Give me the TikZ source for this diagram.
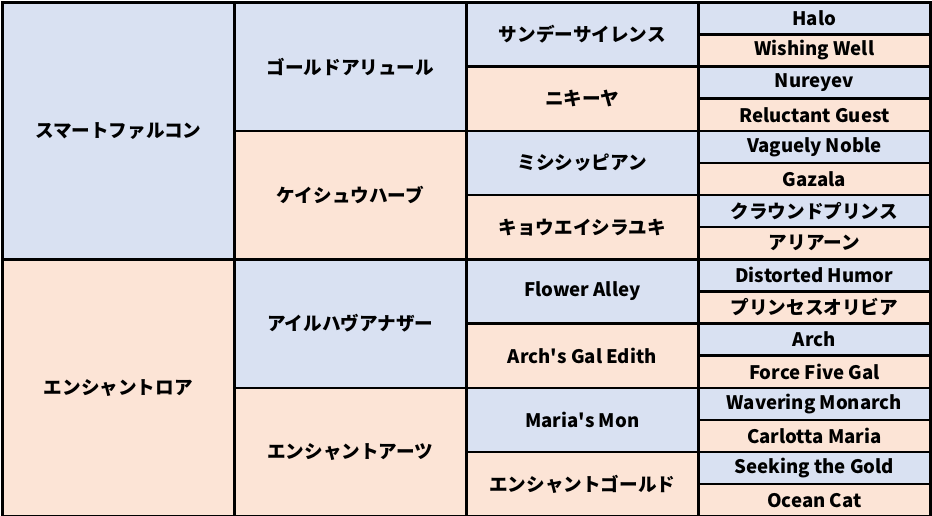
\documentclass[tikz,border=0pt]{standalone}
\usepackage{fontspec}
\setmainfont{Noto Sans CJK JP}
\usetikzlibrary{positioning}

\definecolor{sireblue}{HTML}{D9E1F2}
\definecolor{dampeach}{HTML}{FCE4D6}

\tikzset{
  cell/.style={draw=black, line width=2.6pt, inner sep=0pt, anchor=north west,
    minimum width=232pt, font=\fontsize{18.6}{21}\selectfont\bfseries},
  sire/.style={cell, fill=sireblue},
  dam/.style={cell, fill=dampeach},
  g1/.style={minimum height=257pt},
  g2/.style={minimum height=128.5pt},
  g3/.style={minimum height=64.25pt},
  g4/.style={minimum height=32.125pt}
}

\begin{document}
\begin{tikzpicture}[x=1pt,y=-1pt]
  \useasboundingbox (0,0) rectangle (932,515);

  % 1. pokolenie
  \node[sire,g1] (s) at (1,1) {スマートファルコン};
  \node[dam,g1] (d) at (1,258) {エンシャントロア};

  % 2. pokolenie
  \node[sire,g2] (ss) at (233,1) {ゴールドアリュール};
  \node[dam,g2] (sd) at (233,129.5) {ケイシュウハーブ};
  \node[sire,g2] (ds) at (233,258) {アイルハヴアナザー};
  \node[dam,g2] (dd) at (233,386.5) {エンシャントアーツ};

  % 3. pokolenie
  \node[sire,g3] (sss) at (465,1) {サンデーサイレンス};
  \node[dam,g3] (ssd) at (465,65.25) {ニキーヤ};
  \node[sire,g3] (sds) at (465,129.5) {ミシシッピアン};
  \node[dam,g3] (sdd) at (465,193.75) {キョウエイシラユキ};
  \node[sire,g3] (dss) at (465,258) {Flower Alley};
  \node[dam,g3] (dsd) at (465,322.25) {Arch\textquotesingle s Gal Edith};
  \node[sire,g3] (dds) at (465,386.5) {Maria\textquotesingle s Mon};
  \node[dam,g3] (ddd) at (465,450.75) {エンシャントゴールド};

  % 4. pokolenie
  \node[sire,g4] (ssss) at (697,1) {Halo};
  \node[dam,g4] (sssd) at (697,33.125) {Wishing Well};
  \node[sire,g4] (ssds) at (697,65.25) {Nureyev};
  \node[dam,g4] (ssdd) at (697,97.375) {Reluctant Guest};
  \node[sire,g4] (sdss) at (697,129.5) {Vaguely Noble};
  \node[dam,g4] (sdsd) at (697,161.625) {Gazala};
  \node[sire,g4] (sdds) at (697,193.75) {クラウンドプリンス};
  \node[dam,g4] (sddd) at (697,225.875) {アリアーン};
  \node[sire,g4] (dsss) at (697,258) {Distorted Humor};
  \node[dam,g4] (dssd) at (697,290.125) {プリンセスオリビア};
  \node[sire,g4] (dsds) at (697,322.25) {Arch};
  \node[dam,g4] (dsdd) at (697,354.375) {Force Five Gal};
  \node[sire,g4] (ddss) at (697,386.5) {Wavering Monarch};
  \node[dam,g4] (ddsd) at (697,418.625) {Carlotta Maria};
  \node[sire,g4] (ddds) at (697,450.75) {Seeking the Gold};
  \node[dam,g4] (dddd) at (697,482.875) {Ocean Cat};

\end{tikzpicture}
\end{document}
